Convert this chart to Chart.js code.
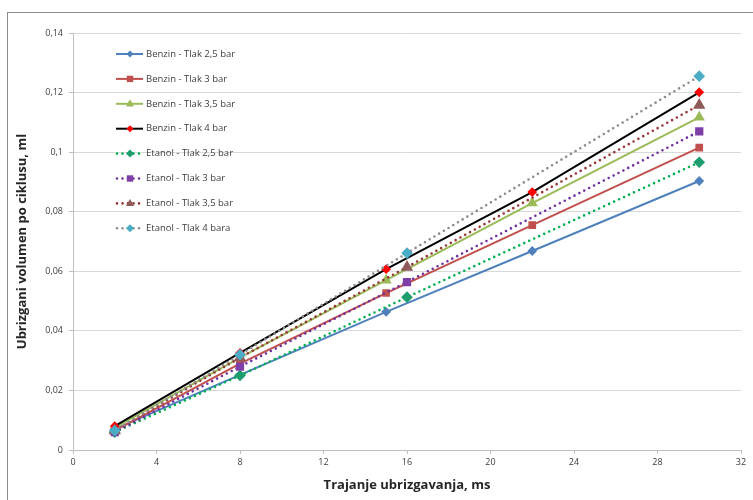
<!DOCTYPE html>
<html>
<head>
<meta charset="utf-8">
<script src="https://cdn.jsdelivr.net/npm/chart.js@4.4.1/dist/chart.umd.min.js"></script>
<style>
  body { margin: 0; background: #fff; }
  #wrap { width: 753px; height: 500px; }
</style>
</head>
<body>
<div id="wrap"><canvas id="ubrizg" width="753" height="500"></canvas></div>
<script>
const benzinX = [2, 8, 15, 22, 30]
const etanolX = [2, 8, 16, 30]

const serieNames = [
  'Benzin - Tlak 2,5 bar',
  'Benzin - Tlak 3 bar',
  'Benzin - Tlak 3,5 bar',
  'Benzin - Tlak 4 bar',
  'Etanol - Tlak 2,5 bar',
  'Etanol - Tlak 3 bar',
  'Etanol - Tlak 3,5 bar',
  'Etanol - Tlak 4 bara',
]

const benzin25 = [0.0070, 0.0252, 0.0464, 0.0668, 0.0903]
const benzin3 = [0.0065, 0.0290, 0.0527, 0.0755, 0.1015]
const benzin35 = [0.0075, 0.0310, 0.0570, 0.0829, 0.1117]
const benzin4 = [0.0080, 0.0326, 0.0607, 0.0866, 0.1201]
const etanol25 = [0.0060, 0.0250, 0.0513, 0.0966]
const etanol3 = [0.0060, 0.0280, 0.0564, 0.1070]
const etanol35 = [0.0065, 0.0310, 0.0614, 0.1158]
const etanol4 = [0.0065, 0.0320, 0.0661, 0.1255]

const yTicks = [0, 0.02, 0.04, 0.06, 0.08, 0.1, 0.12, 0.14]
const xTicks = [0, 4, 8, 12, 16, 20, 24, 28, 32]

function pts(xs, ys) {
  return xs.map((x, i) => ({ x: x, y: ys[i] }))
}

function benzinSet(i, ys, line, marker, shape, r) {
  return {
    label: serieNames[i],
    data: pts(benzinX, ys),
    borderColor: line,
    backgroundColor: marker,
    pointBorderColor: marker,
    pointBackgroundColor: marker,
    pointStyle: shape,
    pointRadius: r,
    borderWidth: 2,
    tension: 0,
  }
}

function etanolSet(i, ys, line, marker, shape, r) {
  return {
    label: serieNames[i],
    data: pts(etanolX, ys),
    borderColor: line,
    backgroundColor: marker,
    pointBorderColor: marker,
    pointBackgroundColor: marker,
    pointStyle: shape,
    pointRadius: r,
    borderWidth: 2.6,
    borderDash: [0, 5.5],
    borderCapStyle: 'round',
    tension: 0,
  }
}

const datasets = [
  benzinSet(0, benzin25, '#4F81BD', '#4F81BD', 'rectRot', 3.5),
  benzinSet(1, benzin3, '#C0504D', '#C0504D', 'rect', 4),
  benzinSet(2, benzin35, '#9BBB59', '#9BBB59', 'triangle', 4.5),
  benzinSet(3, benzin4, '#000000', '#FF0000', 'rectRot', 3.5),
  etanolSet(4, etanol25, '#00B050', '#1E9E6E', 'rectRot', 4),
  etanolSet(5, etanol3, '#7030A0', '#7F3FA8', 'rect', 4),
  etanolSet(6, etanol35, '#953735', '#8E5A5A', 'triangle', 4.5),
  etanolSet(7, etanol4, '#8C8C8C', '#4BACC6', 'rectRot', 4),
].reverse()

function fmt(v) {
  return String(+v.toFixed(2)).replace('.', ',')
}

const framePlugin = {
  id: 'frame',
  beforeDraw(chart) {
    const c = chart.ctx
    c.save()
    c.fillStyle = '#fff'
    c.fillRect(0, 0, chart.width, chart.height)
    c.strokeStyle = '#8a8a8a'
    c.lineWidth = 1
    c.strokeRect(7.5, 12.5, 800, 600)
    c.restore()
  },
}

function marker(c, shape, x, y, r) {
  c.beginPath()
  if (shape === 'rectRot') {
    c.moveTo(x, y - r); c.lineTo(x + r, y); c.lineTo(x, y + r); c.lineTo(x - r, y)
  } else if (shape === 'rect') {
    const s = r * 0.8
    c.rect(x - s, y - s, 2 * s, 2 * s)
  } else {
    c.moveTo(x, y - r); c.lineTo(x + r * 0.9, y + r * 0.6); c.lineTo(x - r * 0.9, y + r * 0.6)
  }
  c.closePath()
  c.fill()
}

const legendPlugin = {
  id: 'boxLegend',
  afterDraw(chart) {
    const c = chart.ctx
    const sets = chart.data.datasets.slice().reverse()
    c.save()
    c.font = '9.5px "Open Sans", sans-serif'
    c.textBaseline = 'middle'
    sets.forEach((ds, i) => {
      const y = 54 + i * 24.9
      c.strokeStyle = ds.borderColor
      c.lineWidth = ds.borderWidth
      c.lineCap = ds.borderCapStyle || 'butt'
      c.setLineDash(ds.borderDash || [])
      c.beginPath()
      c.moveTo(ds.borderDash ? 117 : 116, y)
      c.lineTo(143, y)
      c.stroke()
      c.setLineDash([])
      c.fillStyle = ds.pointBackgroundColor
      marker(c, ds.pointStyle, 130, y, ds.pointRadius)
      c.fillStyle = '#404040'
      c.fillText(ds.label, 146, y)
    })
    c.restore()
  },
}

const config = {
  type: 'line',
  data: { datasets: datasets },
  options: {
    responsive: false,
    animation: false,
    layout: { padding: { left: 14, top: 33, right: 12, bottom: 7 } },
    plugins: {
      legend: { display: false },
      tooltip: { enabled: false },
    },
    scales: {
      x: {
        type: 'linear',
        min: 0,
        max: 32,
        afterBuildTicks(s) { s.ticks = xTicks.map(v => ({ value: v })) },
        afterFit(s) { s.height = 43 },
        grid: { drawOnChartArea: false, tickLength: 4, color: '#BFBFBF' },
        border: { color: '#BFBFBF' },
        ticks: {
          color: '#404040',
          font: { family: 'Open Sans', size: 9 },
          padding: 3,
          maxRotation: 0,
          callback: v => String(v),
        },
        title: {
          display: true,
          text: 'Trajanje ubrizgavanja, ms',
          color: '#262626',
          font: { family: 'Open Sans', size: 13, weight: 'bold' },
          padding: { top: 5, bottom: 0 },
        },
      },
      y: {
        min: 0,
        max: 0.14,
        afterBuildTicks(s) { s.ticks = yTicks.map(v => ({ value: v })) },
        afterFit(s) { s.width = 59 },
        grid: { color: '#D9D9D9', tickLength: 4, tickColor: '#BFBFBF' },
        border: { color: '#BFBFBF' },
        ticks: {
          color: '#404040',
          font: { family: 'Open Sans', size: 9 },
          padding: 6,
          callback: v => fmt(v),
        },
        title: {
          display: true,
          text: 'Ubrizgani volumen po ciklusu, ml',
          color: '#262626',
          font: { family: 'Open Sans', size: 13, weight: 'bold' },
          padding: { top: 0, bottom: 4 },
        },
      },
    },
  },
  plugins: [framePlugin, legendPlugin],
}

const ubrizgChart = new Chart(document.getElementById('ubrizg'), config)
</script>
</body>
</html>
